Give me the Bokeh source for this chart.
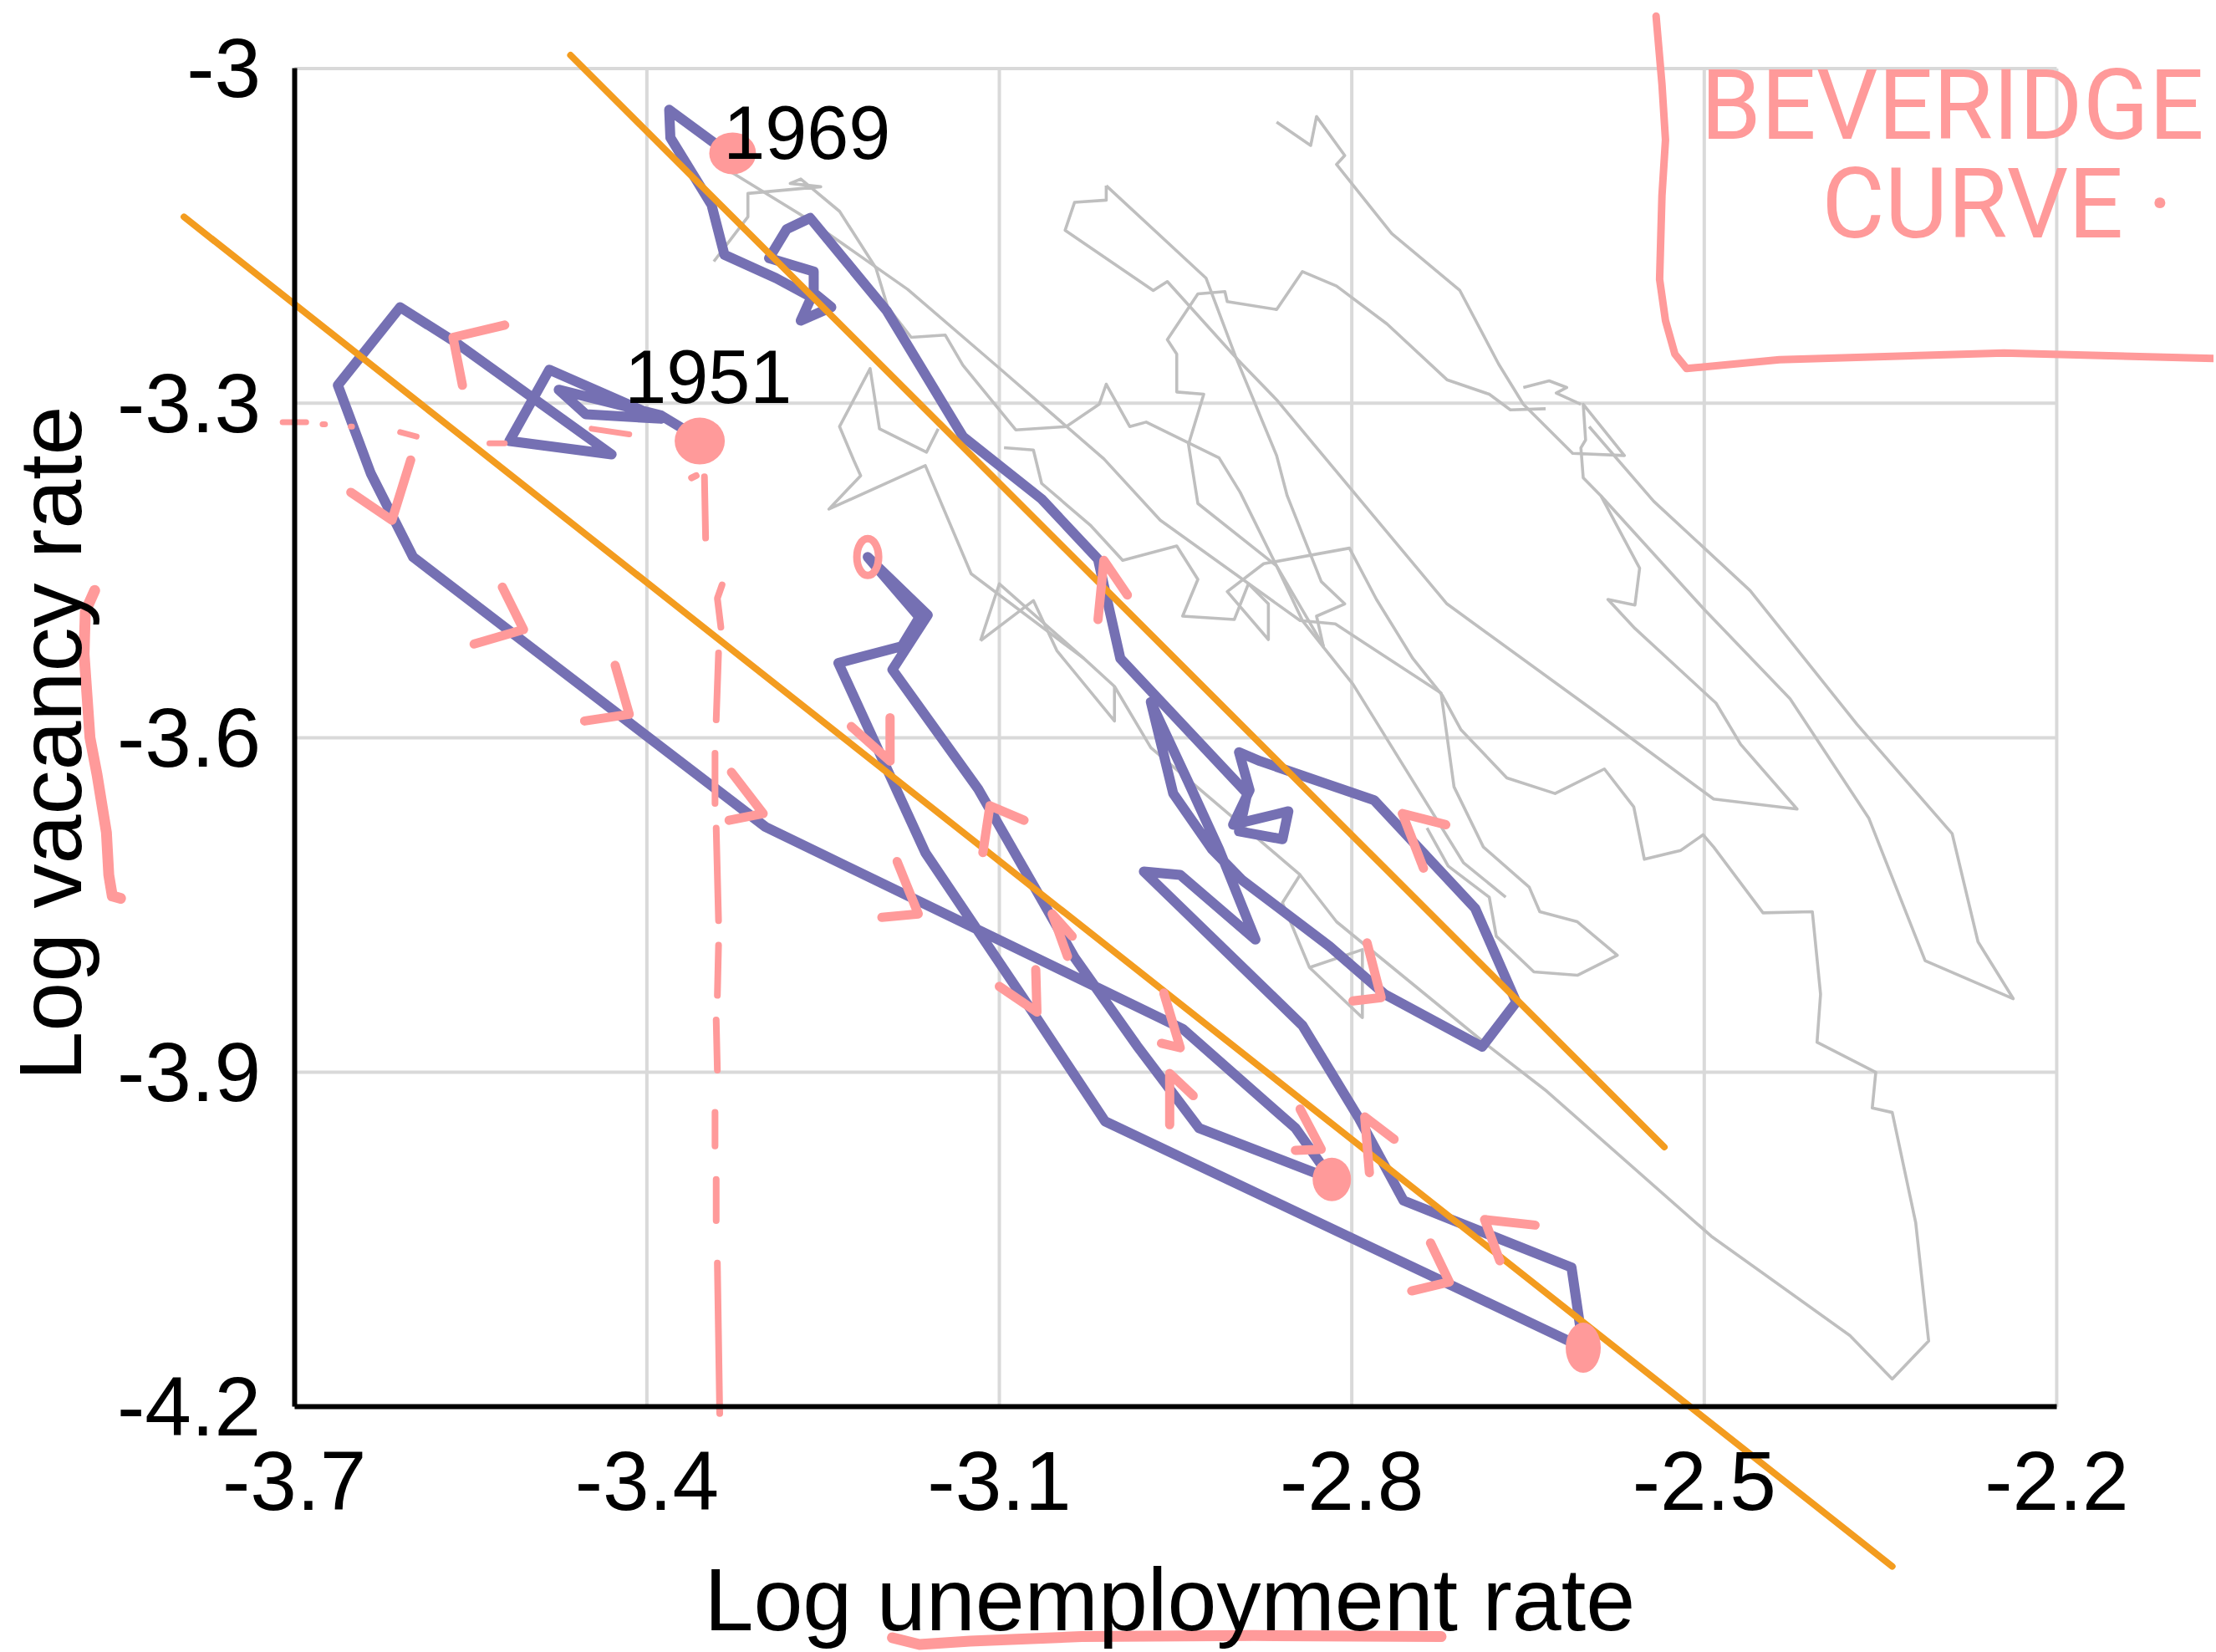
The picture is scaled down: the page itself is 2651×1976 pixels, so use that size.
from bokeh.plotting import figure
from bokeh.models import Range1d, FixedTicker, CustomJSTickFormatter, Label
from bokeh.embed import file_html
from bokeh.resources import INLINE

# ---------------- data ----------------
x_ticks = [-3.7, -3.4, -3.1, -2.8, -2.5, -2.2]
y_ticks = [-4.2, -3.9, -3.6, -3.3, -3.0]

# 1951-1969 path (log unemployment, log vacancy)
purple_x = [-3.355, -3.388, -3.475, -3.452, -3.388, -3.483, -3.517, -3.430, -3.565, -3.610,
            -3.663, -3.635, -3.599, -3.299, -2.944, -2.848, -2.817, -2.930, -2.983, -3.036,
            -3.069, -3.118, -3.191, -3.161, -3.212, -3.168, -3.183, -3.237, -3.163, -3.071,
            -3.010, -2.603, -2.613, -2.756, -2.794, -2.842, -2.977, -2.946, -2.882, -2.913,
            -2.940, -2.971, -2.952, -2.919, -2.893, -2.819, -2.772, -2.689, -2.660, -2.695,
            -2.781, -2.878, -2.896, -2.887, -2.901, -2.854, -2.859, -2.896, -2.889, -2.997,
            -3.016, -3.064, -3.131, -3.196, -3.261, -3.281, -3.296, -3.258, -3.258, -3.243,
            -3.269, -3.260, -3.290, -3.334, -3.345, -3.380, -3.381, -3.328]
purple_y = [-3.332, -3.311, -3.288, -3.310, -3.314, -3.270, -3.334, -3.346, -3.244, -3.214,
            -3.284, -3.363, -3.438, -3.680, -3.861, -3.950, -3.996, -3.950, -3.876, -3.797,
            -3.736, -3.646, -3.539, -3.490, -3.438, -3.492, -3.518, -3.533, -3.703, -3.847,
            -3.944, -4.147, -4.075, -4.015, -3.941, -3.858, -3.720, -3.723, -3.781, -3.700,
            -3.638, -3.568, -3.650, -3.700, -3.728, -3.787, -3.830, -3.877, -3.837, -3.753,
            -3.656, -3.621, -3.613, -3.647, -3.678, -3.666, -3.691, -3.684, -3.650, -3.529,
            -3.440, -3.386, -3.330, -3.217, -3.134, -3.144, -3.170, -3.182, -3.201, -3.214,
            -3.226, -3.205, -3.188, -3.167, -3.122, -3.062, -3.037, -3.078]

# later years (grey background paths)
gray_x = [
    [-3.328, -3.266, -3.178, -3.104, -3.011, -2.963, -2.844, -2.814, -2.724, -2.713, -2.688,
     -2.649, -2.640, -2.608, -2.574, -2.608, -2.645, -2.677, -2.683, -2.718, -2.736],
    [-3.343, -3.314, -3.314, -3.252, -3.278, -3.269, -3.236, -3.205, -3.195, -3.175, -3.146,
     -3.131, -3.086, -3.043, -3.015, -3.009, -2.989, -2.975, -2.913, -2.895, -2.864, -2.842, -2.824],
    [-3.152, -3.162, -3.202, -3.210, -3.236, -3.224, -3.218, -3.245, -3.163, -3.124, -3.028,
     -3.002, -2.971, -2.885, -2.844, -2.813, -2.683, -2.634, -2.494, -2.376, -2.340, -2.309,
     -2.320, -2.340, -2.357, -2.354, -2.404, -2.401, -2.408, -2.450, -2.492, -2.501, -2.520,
     -2.551, -2.560, -2.585, -2.627, -2.668, -2.707, -2.723, -2.748, -2.779, -2.802, -2.875,
     -2.906, -2.871, -2.871, -2.888, -2.900, -2.944, -2.931, -2.949, -2.995, -3.022, -3.064,
     -3.071, -3.096],
    [-3.009, -3.009, -3.036, -3.044, -2.969, -2.957, -2.897, -2.864, -2.719, -2.595, -2.492,
     -2.421, -2.469, -2.490, -2.559, -2.582, -2.559, -2.555, -2.588, -2.603, -2.605, -2.601,
     -2.603, -2.568, -2.612, -2.654, -2.675, -2.708, -2.766, -2.813, -2.806, -2.830, -2.835, -2.864],
    [-3.009, -2.924, -2.899, -2.864, -2.855, -2.826, -2.806, -2.830, -2.824, -2.799, -2.705, -2.669],
    [-2.588, -2.500, -2.427, -2.360, -2.312, -2.237, -2.267, -2.289, -2.370, -2.461, -2.543, -2.598],
    [-2.635, -2.665, -2.683, -2.719, -2.770, -2.813, -2.842, -2.864, -2.906, -2.908, -2.931,
     -2.957, -2.949, -2.949, -2.926, -2.939, -2.931, -2.864, -2.824],
    [-2.654, -2.632, -2.617, -2.626, -2.605],
    [-3.116, -3.100, -3.028],
    [-3.116, -3.071, -3.051, -3.002, -3.002],
    [-2.844, -2.859, -2.836, -2.791, -2.791, -2.836],
]
gray_y = [
    [-3.093, -3.133, -3.198, -3.265, -3.350, -3.405, -3.495, -3.498, -3.560, -3.644, -3.698,
     -3.734, -3.756, -3.765, -3.795, -3.813, -3.810, -3.778, -3.743, -3.715, -3.681],
    [-3.173, -3.133, -3.112, -3.106, -3.103, -3.099, -3.128, -3.179, -3.214, -3.241, -3.239,
     -3.266, -3.324, -3.321, -3.301, -3.283, -3.321, -3.317, -3.349, -3.380, -3.446, -3.495, -3.519],
    [-3.323, -3.344, -3.323, -3.269, -3.321, -3.351, -3.365, -3.395, -3.356, -3.453, -3.529,
     -3.554, -3.609, -3.686, -3.723, -3.765, -3.877, -3.917, -4.047, -4.136, -4.175, -4.141,
     -4.035, -3.936, -3.932, -3.900, -3.873, -3.830, -3.756, -3.757, -3.698, -3.687, -3.701,
     -3.709, -3.662, -3.628, -3.650, -3.636, -3.593, -3.562, -3.529, -3.476, -3.430, -3.444,
     -3.469, -3.512, -3.480, -3.462, -3.494, -3.491, -3.458, -3.428, -3.441, -3.410, -3.372,
     -3.342, -3.340],
    [-3.105, -3.118, -3.120, -3.145, -3.199, -3.191, -3.261, -3.297, -3.480, -3.575, -3.655,
     -3.664, -3.606, -3.569, -3.502, -3.476, -3.481, -3.448, -3.383, -3.367, -3.340, -3.333,
     -3.301, -3.347, -3.345, -3.301, -3.265, -3.199, -3.148, -3.086, -3.078, -3.043, -3.069, -3.048],
    [-3.105, -3.188, -3.258, -3.347, -3.383, -3.460, -3.480, -3.491, -3.519, -3.552, -3.712, -3.743],
    [-3.383, -3.485, -3.565, -3.672, -3.800, -3.834, -3.783, -3.686, -3.588, -3.468, -3.388, -3.321],
    [-3.305, -3.306, -3.292, -3.279, -3.229, -3.195, -3.182, -3.216, -3.209, -3.200, -3.202,
     -3.243, -3.256, -3.290, -3.292, -3.337, -3.390, -3.446, -3.518],
    [-3.286, -3.280, -3.286, -3.291, -3.301],
    [-3.513, -3.462, -3.529],
    [-3.513, -3.477, -3.522, -3.585, -3.554],
    [-3.723, -3.748, -3.806, -3.790, -3.851, -3.806],
]

# two fitted Beveridge lines
orange_x = [[-3.465, -2.534], [-3.794, -2.340]]
orange_y = [[-2.988, -3.967], [-3.133, -4.343]]

# labelled years
year_text = ["1969", "1951"]
year_x = [-3.335, -3.419]
year_y = [-3.082, -3.301]

# hand annotations: highlighted points
dot_x = [-3.327, -3.355, -2.817, -2.603]
dot_y = [-3.076, -3.334, -3.996, -4.147]
loop_x = [-3.212]
loop_y = [-3.438]

# hand annotations: direction arrows (three-point strokes)
arrow_x = [[-3.521, -3.565, -3.557], [-3.652, -3.617, -3.601], [-3.523, -3.505, -3.547],
           [-3.427, -3.415, -3.453], [-3.328, -3.301, -3.330], [-3.226, -3.193, -3.193],
           [-3.187, -3.169, -3.200], [-3.114, -3.108, -3.079], [-3.042, -3.055, -3.038],
           [-3.100, -3.068, -3.069], [-2.960, -2.946, -2.962], [-2.955, -2.955, -2.935],
           [-2.844, -2.826, -2.848], [-2.764, -2.789, -2.785], [-2.644, -2.687, -2.674],
           [-2.733, -2.717, -2.749], [-3.016, -3.011, -2.991], [-2.720, -2.757, -2.739],
           [-2.787, -2.775, -2.799]]
arrow_y = [[-3.230, -3.241, -3.284], [-3.380, -3.405, -3.351], [-3.465, -3.503, -3.516],
           [-3.535, -3.579, -3.585], [-3.631, -3.668, -3.674], [-3.590, -3.621, -3.582],
           [-3.711, -3.758, -3.761], [-3.703, -3.661, -3.674], [-3.796, -3.758, -3.778],
           [-3.823, -3.846, -3.808], [-3.829, -3.878, -3.874], [-3.947, -3.901, -3.921],
           [-3.933, -3.969, -3.970], [-3.960, -3.940, -3.990], [-4.037, -4.032, -4.069],
           [-4.053, -4.088, -4.096], [-3.494, -3.441, -3.472], [-3.678, -3.668, -3.717],
           [-3.784, -3.833, -3.836]]

# hand annotations: dashed guides from the 1951 point
hdash_x = [[-3.710, -3.690], [-3.676, -3.674], [-3.652, -3.651], [-3.610, -3.596],
           [-3.534, -3.521], [-3.447, -3.415]]
hdash_y = [[-3.317, -3.317], [-3.319, -3.319], [-3.321, -3.321], [-3.326, -3.330],
           [-3.336, -3.336], [-3.323, -3.328]]
vdash_x = [[-3.362, -3.358], [-3.351, -3.350], [-3.336, -3.340, -3.337], [-3.339, -3.341],
           [-3.342, -3.342], [-3.341, -3.339], [-3.339, -3.340], [-3.341, -3.340],
           [-3.342, -3.342], [-3.341, -3.341], [-3.340, -3.338]]
vdash_y = [[-3.367, -3.365], [-3.366, -3.421], [-3.463, -3.475, -3.501], [-3.524, -3.584],
           [-3.614, -3.659], [-3.681, -3.764], [-3.786, -3.831], [-3.853, -3.898],
           [-3.936, -3.966], [-3.996, -4.033], [-4.071, -4.206]]

# hand annotations: squiggle by the y title, underline, note frame
squig_x = [-3.870, -3.878, -3.879, -3.874, -3.868, -3.860, -3.858, -3.855, -3.848]
squig_y = [-3.468, -3.487, -3.525, -3.600, -3.633, -3.685, -3.723, -3.742, -3.744]
under_x = [-3.191, -3.168, -3.125, -3.030, -2.883, -2.724]
under_y = [-4.407, -4.413, -4.410, -4.406, -4.405, -4.406]
frame_x = [-2.541, -2.536, -2.533, -2.536, -2.538, -2.533, -2.525, -2.515, -2.436, -2.245, -2.064]
frame_y = [-2.953, -3.014, -3.064, -3.114, -3.189, -3.226, -3.256, -3.269, -3.261, -3.255, -3.260]
note_text = ["BEVERIDGE", "CURVE \u00b7"]
note_x = [-2.503, -2.400]
note_y = [-3.065, -3.154]

# ---------------- figure ----------------
PURPLE = "#7570b3"
ORANGE = "#f39c1f"
GRAY = "#bfbfbf"
GRID = "#d9d9d9"
PINK = "#ff9a9a"
FONT = "Liberation Sans"
W, H = 2648, 1974
PXX, PXY = 1405.5, 1334.0     # pixels per data unit


def lift(px):
    """vertical data shift that moves a label up by px screen pixels"""
    return px / PXY


p = figure(width=W, height=H,
           x_range=Range1d(-3.950231, -3.950231 + W / PXX),
           y_range=Range1d(-2.938906 - H / PXY, -2.938906),
           output_backend="svg", toolbar_location=None, min_border=0)
p.title.visible = False
p.outline_line_color = None
p.background_fill_color = "white"
p.border_fill_color = "white"
p.xgrid.visible = False
p.ygrid.visible = False

# grid drawn only inside the data box
p.segment(x0=x_ticks, x1=x_ticks, y0=[y_ticks[0]] * len(x_ticks), y1=[y_ticks[-1]] * len(x_ticks),
          line_color=GRID, line_width=4)
p.segment(x0=[x_ticks[0]] * len(y_ticks), x1=[x_ticks[-1]] * len(y_ticks), y0=y_ticks, y1=y_ticks,
          line_color=GRID, line_width=4)

fmt = CustomJSTickFormatter(code="return (Math.round(tick*10)/10).toString();")
for ax, loc, bnds, ticks in ((p.xaxis[0], y_ticks[0], (x_ticks[0], x_ticks[-1]), x_ticks),
                             (p.yaxis[0], x_ticks[0], (y_ticks[0], y_ticks[-1]), y_ticks)):
    ax.fixed_location = loc
    ax.bounds = bnds
    ax.ticker = FixedTicker(ticks=ticks)
    ax.formatter = fmt
    ax.axis_line_color = "black"
    ax.axis_line_width = 6
    ax.major_tick_line_color = None
    ax.minor_tick_line_color = None
    ax.major_tick_in = 0
    ax.major_tick_out = 0
    ax.major_label_text_font = FONT
    ax.major_label_text_font_size = "100px"
    ax.major_label_text_color = "black"
    ax.axis_label = None
p.xaxis[0].major_label_standoff = 54
p.yaxis[0].major_label_standoff = 40

p.multi_line(xs=gray_x, ys=gray_y, line_color=GRAY, line_width=3.6, line_join="round")
p.line(purple_x, purple_y, line_color=PURPLE, line_width=12, line_join="round", line_cap="round")
p.multi_line(xs=orange_x, ys=orange_y, line_color=ORANGE, line_width=8, line_cap="round")

for t, x, y in zip(year_text, year_x, year_y):
    p.add_layout(Label(x=x, y=y + lift(33), text=t, text_font=FONT, text_font_size="90px",
                       text_color="black", text_baseline="alphabetic"))

p.add_layout(Label(x=-2.955, y=-4.402 + lift(39), text="Log unemployment rate", text_font=FONT,
                   text_font_size="106px", text_align="center", text_baseline="alphabetic",
                   text_color="black"))
p.add_layout(Label(x=-3.886 - 31 / PXX, y=-3.605, text="Log vacancy rate", text_font=FONT,
                   text_font_size="106px", text_align="center", text_baseline="alphabetic",
                   text_color="black", angle=1.5708))

# pink hand-drawn layer
p.ellipse(x=dot_x, y=dot_y, width=[56, 60, 46, 42], height=[50, 56, 52, 60],
          width_units="screen", height_units="screen", fill_color=PINK, line_color=None)
p.ellipse(x=loop_x, y=loop_y, width=[26], height=[44], width_units="screen",
          height_units="screen", fill_color=None, line_color=PINK, line_width=9)
p.multi_line(xs=arrow_x, ys=arrow_y, line_color=PINK, line_width=11, line_cap="round",
             line_join="round")
p.multi_line(xs=hdash_x, ys=hdash_y, line_color=PINK, line_width=7, line_cap="round")
p.multi_line(xs=vdash_x, ys=vdash_y, line_color=PINK, line_width=8, line_cap="round")
p.line(squig_x, squig_y, line_color=PINK, line_width=13, line_cap="round", line_join="round")
p.line(under_x, under_y, line_color=PINK, line_width=13, line_cap="round", line_join="round")
p.line(frame_x, frame_y, line_color=PINK, line_width=9, line_cap="round", line_join="round")
for t, x, y in zip(note_text, note_x, note_y):
    p.add_layout(Label(x=x, y=y + lift(43), text=t, text_font="Roboto", text_font_size="116px",
                       text_color=PINK, text_baseline="alphabetic"))

open("out.html", "w").write(file_html(p, INLINE))
